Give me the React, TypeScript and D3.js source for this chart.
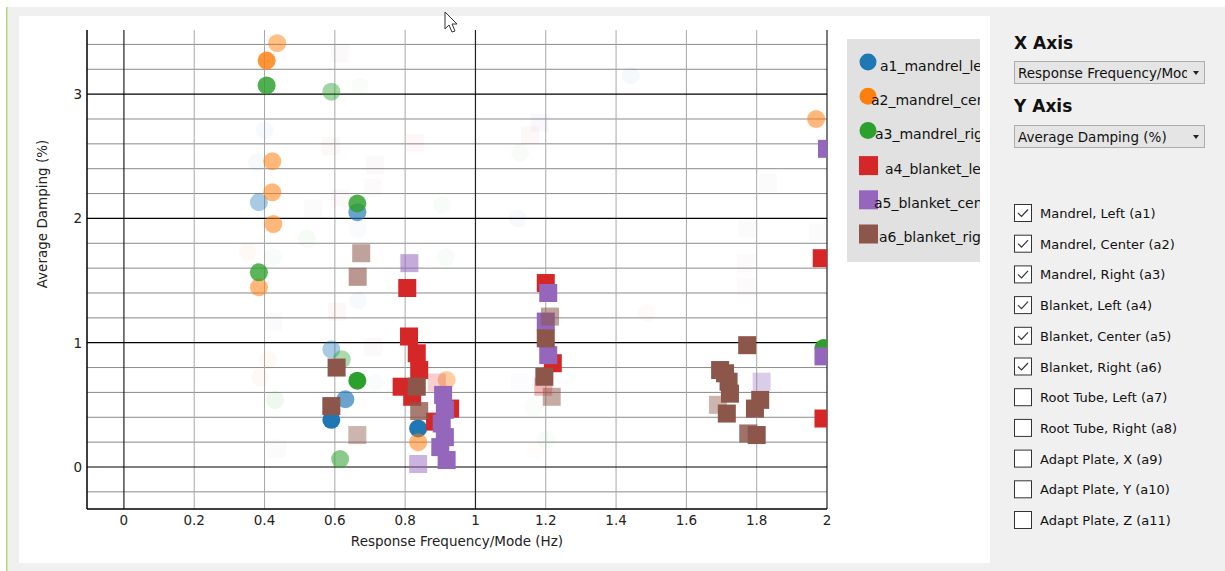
import React from "react";
import * as d3 from "d3";

// ---------- data ----------
// each point: [response frequency (Hz), average damping (%), visibility weight 0..1]
const seriesNames = [
  "a1_mandrel_left",
  "a2_mandrel_center",
  "a3_mandrel_right",
  "a4_blanket_left",
  "a5_blanket_center",
  "a6_blanket_right",
];
const seriesShapes = ["circle", "circle", "circle", "square", "square", "square"];
const seriesColors = ["#1f77b4", "#ff7f0e", "#2ca02c", "#d62728", "#9467bd", "#8c564b"];

type P = [number, number, number];

const a1Points: P[] = [
  [0.4, 2.71, 0.08], [0.378, 2.45, 0.08], [0.666, 1.91, 0.07], [1.442, 3.15, 0.1],
  [1.12, 2.0, 0.08], [0.666, 1.34, 0.08], [0.714, 0.68, 0.07],
  [0.384, 2.13, 0.45], [0.664, 2.05, 0.7], [0.59, 0.947, 0.45],
  [0.63, 0.545, 0.7], [0.59, 0.38, 1], [0.837, 0.31, 1],
];
const a2Points: P[] = [
  [0.353, 1.73, 0.1], [0.41, 0.86, 0.12], [0.387, 0.72, 0.1], [1.17, 0.14, 0.06],
  [1.487, 1.24, 0.08],
  [0.436, 3.41, 0.55], [0.406, 3.27, 0.85], [0.422, 2.46, 0.6], [0.422, 2.21, 0.6],
  [0.425, 1.955, 0.6], [0.384, 1.446, 0.6], [0.837, 0.2, 0.6], [0.918, 0.7, 0.45],
  [1.969, 2.8, 0.6],
];
const a3Points: P[] = [
  [0.52, 1.84, 0.1], [0.424, 1.69, 0.08], [0.671, 3.06, 0.07], [1.127, 2.53, 0.08],
  [0.904, 2.11, 0.08], [0.916, 1.69, 0.08], [0.43, 0.54, 0.15], [1.164, 0.48, 0.06],
  [1.2, 0.22, 0.08],
  [0.406, 3.07, 0.85], [0.59, 3.02, 0.5], [0.664, 2.12, 0.85], [0.384, 1.566, 0.8],
  [0.62, 0.866, 0.45], [0.664, 0.694, 1], [0.615, 0.064, 0.6], [1.99, 0.957, 1],
];
const a4Points: P[] = [
  [0.59, 2.58, 0.08], [0.615, 2.16, 0.07], [0.828, 2.61, 0.08], [1.155, 2.67, 0.08],
  [0.606, 1.25, 0.08], [0.89, 0.68, 0.3], [1.193, 0.646, 0.4],
  [0.806, 1.44, 1], [0.811, 1.05, 1], [0.833, 0.915, 1], [0.84, 0.78, 1],
  [0.79, 0.646, 1], [0.82, 0.565, 1], [0.928, 0.47, 1], [0.885, 0.365, 1],
  [1.2, 1.48, 1], [1.22, 0.835, 1], [1.985, 1.68, 1], [1.99, 0.39, 1],
];
const a5Points: P[] = [
  [1.183, 2.77, 0.1], [0.424, 1.17, 0.08], [1.127, 0.68, 0.06], [1.814, 0.686, 0.4],
  [0.812, 1.64, 0.6], [0.837, 0.024, 0.55],
  [0.908, 0.58, 1], [0.913, 0.46, 1], [0.904, 0.35, 1], [0.913, 0.24, 1],
  [0.9, 0.16, 1], [0.918, 0.056, 1],
  [1.207, 1.4, 1], [1.2, 1.17, 1], [1.207, 0.9, 1], [1.99, 0.89, 1], [2.0, 2.56, 1],
];
const a6Points: P[] = [
  [0.615, 3.33, 0.08], [0.714, 2.43, 0.08], [0.708, 2.245, 0.07], [0.538, 2.08, 0.06],
  [1.832, 2.285, 0.06], [1.772, 1.92, 0.06], [1.974, 1.89, 0.06], [1.77, 1.64, 0.07],
  [1.77, 1.45, 0.07], [0.435, 0.15, 0.06], [0.708, 0.965, 0.08],
  [0.675, 1.72, 0.6], [0.665, 1.53, 0.65], [0.664, 0.257, 0.5],
  [0.605, 0.8, 1], [0.59, 0.49, 1], [0.833, 0.646, 1], [0.84, 0.45, 0.8],
  [1.212, 1.21, 0.6], [1.2, 1.035, 1], [1.196, 0.726, 1], [1.217, 0.565, 0.55],
  [1.773, 0.98, 1], [1.696, 0.78, 1], [1.71, 0.754, 1], [1.72, 0.686, 1],
  [1.724, 0.59, 1], [1.69, 0.5, 0.5], [1.715, 0.43, 1], [1.81, 0.54, 1],
  [1.795, 0.47, 1], [1.776, 0.27, 0.85], [1.8, 0.257, 1],
];
const allSeries = [a1Points, a2Points, a3Points, a4Points, a5Points, a6Points];

const xTicks = [0, 0.2, 0.4, 0.6, 0.8, 1, 1.2, 1.4, 1.6, 1.8, 2];
const xTickLabels = ["0", "0.2", "0.4", "0.6", "0.8", "1", "1.2", "1.4", "1.6", "1.8", "2"];
const yMajorTicks = [0, 1, 2, 3];
const yMinorTicks = [-0.2, 0.2, 0.4, 0.6, 0.8, 1.2, 1.4, 1.6, 1.8, 2.2, 2.4, 2.6, 2.8, 3.2, 3.4];

const checkboxLabels = [
  "Mandrel, Left (a1)", "Mandrel, Center (a2)", "Mandrel, Right (a3)",
  "Blanket, Left (a4)", "Blanket, Center (a5)", "Blanket, Right (a6)",
  "Root Tube, Left (a7)", "Root Tube, Right (a8)", "Adapt Plate, X (a9)",
  "Adapt Plate, Y (a10)", "Adapt Plate, Z (a11)",
];
const checkboxChecked = [true, true, true, true, true, true, false, false, false, false, false];

const xAxisChoice = "Response Frequency/Mode (Hz)";
const yAxisChoice = "Average Damping (%)";
const xAxisTitle = "Response Frequency/Mode (Hz)";
const yAxisTitle = "Average Damping (%)";

// ---------- layout ----------
const W = 1225, H = 571;
const PL = 87, PR = 827, PT = 30, PB = 509;
const FONT = "'DejaVu Sans', Verdana, sans-serif";

export default function App() {
  const x = d3.scaleLinear().domain([-0.105, 2]).range([PL, PR]);
  const y = d3.scaleLinear().domain([-0.338, 3.516]).range([PB, PT]);
  const opacity = d3.scaleLinear().domain([0, 0.12, 0.3, 1]).range([0, 0.05, 0.22, 1]).clamp(true);
  const M = 18;

  // faint points first, then series in order
  const faint: { s: number; p: P }[] = [];
  const solid: { s: number; p: P }[] = [];
  allSeries.forEach((pts, s) => pts.forEach((p) => (p[2] < 0.3 ? faint : solid).push({ s, p })));
  const ordered = [...faint, ...solid];

  const legendX = [880, 871, 875, 885, 874, 879];
  const legendY = (i: number) => 63 + i * 34.2;

  return (
    <div style={{ position: "absolute", left: 0, top: 0, width: W, height: H }}>
      <svg width={W} height={H} style={{ display: "block", fontFamily: FONT }}>
        <defs>
          <clipPath id="plotClip">
            <rect x={PL} y={PT} width={PR - PL} height={PB - PT} />
          </clipPath>
          <clipPath id="legendClip">
            <rect x={847} y={39} width={133} height={223} />
          </clipPath>
          <clipPath id="dd1"><rect x={1014} y={61} width={173} height={24} /></clipPath>
          <clipPath id="dd2"><rect x={1014} y={125} width={173} height={24} /></clipPath>
        </defs>
        <rect width={W} height={H} fill="#f0f0f0" />
        <rect x={0} y={0} width={W} height={7} fill="#ffffff" />
        <rect x={0} y={0} width={6} height={H} fill="#ffffff" />
        <rect x={6} y={7} width={1.5} height={H - 7} fill="#b4d67c" />
        <rect x={19} y={16} width={971} height={547} fill="#ffffff" />

        {/* grid */}
        {yMinorTicks.map((t) => (
          <line key={"ym" + t} x1={PL} x2={PR} y1={y(t)} y2={y(t)} stroke="#8a8a8a" strokeWidth={1} />
        ))}
        {xTicks.map((t) => (
          <line key={"xg" + t} x1={x(t)} x2={x(t)} y1={PT} y2={PB}
            stroke={Number.isInteger(t) ? "#222" : "#a8a8a8"} strokeWidth={Number.isInteger(t) ? 1.2 : 1} />
        ))}
        {yMajorTicks.map((t) => (
          <line key={"yM" + t} x1={PL} x2={PR} y1={y(t)} y2={y(t)} stroke="#000" strokeWidth={1.2} />
        ))}
        <line x1={PL} x2={PL} y1={PT} y2={PB} stroke="#000" strokeWidth={1.5} />
        <line x1={PL} x2={PR} y1={PB} y2={PB} stroke="#000" strokeWidth={1.5} />

        {/* points */}
        <g clipPath="url(#plotClip)">
          {ordered.map(({ s, p }, i) =>
            seriesShapes[s] === "circle" ? (
              <circle key={i} cx={x(p[0])} cy={y(p[1])} r={M / 2} fill={seriesColors[s]} fillOpacity={opacity(p[2])} />
            ) : (
              <rect key={i} x={x(p[0]) - M / 2} y={y(p[1]) - M / 2} width={M} height={M}
                fill={seriesColors[s]} fillOpacity={opacity(p[2])} />
            )
          )}
        </g>

        {/* tick labels */}
        {xTicks.map((t, i) => (
          <text key={"xl" + t} x={x(t)} y={525} textAnchor="middle" fontSize={13.5} fill="#222">{xTickLabels[i]}</text>
        ))}
        {yMajorTicks.map((t) => (
          <text key={"yl" + t} x={82} y={y(t) + 5} textAnchor="end" fontSize={13.5} fill="#222">{t}</text>
        ))}
        <text x={(PL + PR) / 2} y={546} textAnchor="middle" fontSize={13.5} fill="#222">{xAxisTitle}</text>
        <text transform="translate(47,214) rotate(-90)" textAnchor="middle" fontSize={13.5} fill="#222">{yAxisTitle}</text>

        {/* legend */}
        <rect x={847} y={39} width={133} height={223} fill="#e1e1e1" />
        <g clipPath="url(#legendClip)">
          {seriesNames.map((n, i) => (
            <g key={n}>
              {seriesShapes[i] === "circle" ? (
                <circle cx={868} cy={legendY(i) - 1} r={8.5} fill={seriesColors[i]} />
              ) : (
                <rect x={859} y={legendY(i) - 9.5} width={19} height={19} fill={seriesColors[i]} />
              )}
              <text x={legendX[i]} y={legendY(i) + 8} fontSize={14} fill="#111">{n}</text>
            </g>
          ))}
        </g>

        {/* right panel */}
        <text x={1014} y={49} fontSize={17} fontWeight="bold" fill="#111">X Axis</text>
        <rect x={1014.5} y={61.5} width={190} height={22} fill="#e5e5e5" stroke="#adadad" />
        <g clipPath="url(#dd1)">
          <text x={1018} y={78} fontSize={13.5} fill="#111">{xAxisChoice}</text>
        </g>
        <path d="M1193,71 L1199,71 L1196,75 Z" fill="#222" />
        <text x={1014} y={112} fontSize={17} fontWeight="bold" fill="#111">Y Axis</text>
        <rect x={1014.5} y={125.5} width={190} height={22} fill="#e5e5e5" stroke="#adadad" />
        <g clipPath="url(#dd2)">
          <text x={1018} y={142} fontSize={13.5} fill="#111">{yAxisChoice}</text>
        </g>
        <path d="M1193,135 L1199,135 L1196,139 Z" fill="#222" />

        {checkboxLabels.map((l, i) => {
          const cy = 213 + i * 30.7;
          return (
            <g key={l}>
              <rect x={1014.5} y={cy - 8.5} width={17} height={17} fill="#fff" stroke="#333" strokeWidth={1} />
              {checkboxChecked[i] && (
                <path d={`M${1018},${cy} L${1021.5},${cy + 3.5} L${1028},${cy - 3.5}`} fill="none" stroke="#333" strokeWidth={1.2} />
              )}
              <text x={1040} y={cy + 5} fontSize={13} fill="#111">{l}</text>
            </g>
          );
        })}

        {/* mouse cursor */}
        <path d="M445,12 L445,29 L449,25 L452,32 L455,31 L452,24 L457,24 Z" fill="#fff" stroke="#333" strokeWidth={1} />
      </svg>
    </div>
  );
}
